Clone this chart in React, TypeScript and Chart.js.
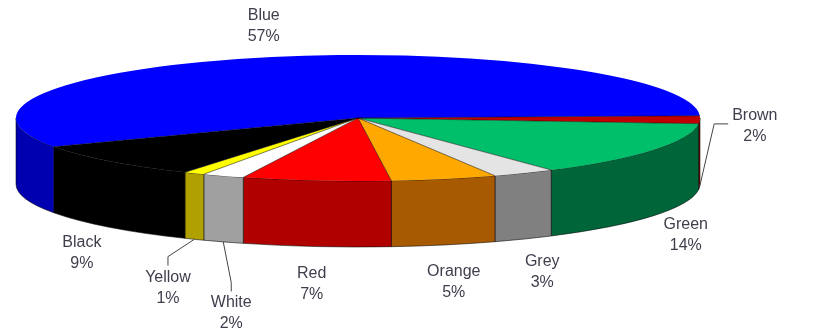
import React, { useEffect, useRef } from "react";
import { Chart, registerables } from "chart.js";

Chart.register(...registerables);

// ---- data ----
const categories = ["Brown", "Green", "Grey", "Orange", "Red", "White", "Yellow", "Black", "Blue"];
const values = [2, 14, 3, 5, 7, 2, 1, 9, 57];
const percentLabels = ["2%", "14%", "3%", "5%", "7%", "2%", "1%", "9%", "57%"];

// ---- styles ----
const topColors = ["#C00000", "#00BF6B", "#E4E4E4", "#FFA800", "#FF0000", "#FFFFFF", "#FFFF00", "#000000", "#0000FF"];
const sideColors = ["#8A0000", "#00663A", "#808080", "#A85A00", "#B00000", "#A0A0A0", "#B0A000", "#000000", "#0000B0"];
const START_ANGLE_DEG = -2;
const DEPTH = 66;
const FONT = '16px "Liberation Sans", Arial, sans-serif';
const LINE_H = 21;
const TEXT_COLOR = "#3e3e4c";

const pie3d = {
  id: "pie3d",
  beforeDatasetsDraw(chart: any) {
    const arcs = chart.getDatasetMeta(0).data;
    chart.$pie3dSaved = false;
    if (!arcs.length) return;
    const ctx = chart.ctx;
    const { x: cx, y: cy, outerRadius: R } = arcs[0];
    const rx = chart.chartArea.width / 2;
    const ry = R;
    arcs.forEach((arc: any, i: number) => {
      for (const shift of [-2 * Math.PI, 0, 2 * Math.PI]) {
        const s = Math.max(arc.startAngle + shift, 0);
        const e = Math.min(arc.endAngle + shift, Math.PI);
        if (e <= s) continue;
        ctx.beginPath();
        ctx.ellipse(cx, cy, rx, ry, 0, s, e, false);
        ctx.lineTo(cx + rx * Math.cos(e), cy + ry * Math.sin(e) + DEPTH);
        ctx.ellipse(cx, cy + DEPTH, rx, ry, 0, e, s, true);
        ctx.closePath();
        ctx.fillStyle = sideColors[i];
        ctx.fill();
        ctx.strokeStyle = "rgba(0,0,0,0.55)";
        ctx.lineWidth = 1;
        ctx.stroke();
      }
    });
    ctx.save();
    ctx.translate(cx, cy);
    ctx.scale(rx / R, ry / R);
    ctx.translate(-cx, -cy);
    chart.$pie3dSaved = true;
  },
  afterDatasetsDraw(chart: any) {
    if (!chart.$pie3dSaved) return;
    const ctx = chart.ctx;
    ctx.restore();
    const arcs = chart.getDatasetMeta(0).data;
    const { x: cx, y: cy, outerRadius: R } = arcs[0];
    const rx = chart.chartArea.width / 2;
    const ry = R;

    // radial slice edges on the top face
    ctx.save();
    ctx.strokeStyle = "rgba(0,0,0,0.5)";
    ctx.lineWidth = 1;
    arcs.forEach((arc: any) => {
      ctx.beginPath();
      ctx.moveTo(cx, cy);
      ctx.lineTo(cx + rx * Math.cos(arc.startAngle), cy + ry * Math.sin(arc.startAngle));
      ctx.stroke();
    });
    ctx.restore();

    // labels
    ctx.save();
    ctx.font = FONT;
    const labels = arcs.map((arc: any, i: number) => {
      const m = (arc.startAngle + arc.endAngle) / 2;
      const c = Math.cos(m);
      const s = Math.sin(m);
      const small = values[i] < 3;
      const L = small ? 55 : s > 0 ? 38 : 32;
      const front = Math.min(Math.max(s * 2.5, 0), 1);
      const w = Math.max(ctx.measureText(categories[i]).width, ctx.measureText(percentLabels[i]).width);
      return {
        i,
        m,
        small,
        w,
        lx: cx + (rx + L) * c,
        ly: cy + (ry + L) * s + DEPTH * front,
        ax: cx + rx * c,
        ay: cy + ry * s + (s > 0 ? DEPTH : 0),
      };
    });
    // simple overlap resolution for the front labels: walk from left to right
    const front = labels.filter((l: any) => Math.sin(l.m) > 0).sort((a: any, b: any) => b.m - a.m);
    for (let k = 1; k < front.length; k++) {
      const p = front[k - 1];
      const q = front[k];
      const needX = (p.w + q.w) / 2 + 20;
      const overlapY = Math.abs(p.ly - q.ly) < 2 * LINE_H;
      if (overlapY && q.lx - p.lx < needX) {
        q.lx = p.lx + needX;
        q.ly = q.ly + LINE_H;
      }
    }
    labels.forEach((l: any) => {
      const top = l.ly - LINE_H;
      if (l.small) {
        ctx.beginPath();
        ctx.strokeStyle = "#444";
        ctx.lineWidth = 1;
        ctx.moveTo(l.ax, l.ay);
        if (l.lx - l.w / 2 > l.ax + 4) {
          const left = l.lx - l.w / 2;
          ctx.lineTo(left - 18, l.ly - 2);
          ctx.lineTo(left - 4, l.ly - 2);
        } else {
          ctx.lineTo(l.lx, top - 10);
          ctx.lineTo(l.lx, top - 1);
        }
        ctx.stroke();
      }
      ctx.fillStyle = TEXT_COLOR;
      ctx.textAlign = "center";
      ctx.textBaseline = "middle";
      ctx.fillText(categories[l.i], l.lx, l.ly - LINE_H / 2);
      ctx.fillText(percentLabels[l.i], l.lx, l.ly + LINE_H / 2);
    });
    ctx.restore();
  },
};

export default function App() {
  const ref = useRef<HTMLCanvasElement | null>(null);
  useEffect(() => {
    if (!ref.current) return;
    const chart = new Chart(ref.current, {
      type: "pie",
      data: {
        labels: categories,
        datasets: [
          {
            data: values,
            backgroundColor: topColors,
            borderWidth: 0,
            clip: false,
          } as any,
        ],
      },
      options: {
        animation: false,
        responsive: true,
        maintainAspectRatio: false,
        rotation: START_ANGLE_DEG + 90,
        layout: { padding: { left: 16, right: 115, top: 55, bottom: 154 } },
        plugins: {
          legend: { display: false },
          tooltip: { enabled: false },
        },
        events: [],
      },
      plugins: [pie3d],
    });
    return () => chart.destroy();
  }, []);
  return (
    <div style={{ position: "fixed", left: 0, top: 0, width: 815, height: 335, background: "#fff" }}>
      <canvas ref={ref} />
    </div>
  );
}
